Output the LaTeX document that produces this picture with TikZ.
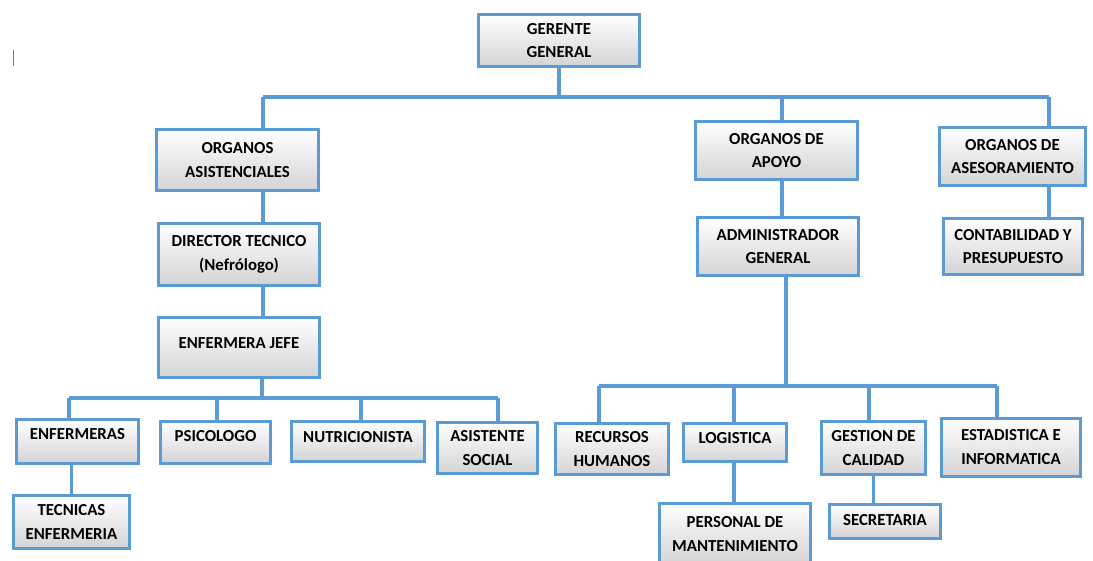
\documentclass[tikz,border=0pt]{standalone}
\usepackage{fontspec}
\setmainfont{Carlito}
\definecolor{azul}{HTML}{5B9BD5}

\begin{document}
\begin{tikzpicture}[x=1pt, y=-1pt]
    \tikzstyle{every node} = [font=\bfseries\fontsize{16.8}{23.5}\selectfont]
    \tikzstyle{caja}       = [rectangle, draw=azul, line width=3pt, top color=white, bottom color=black!17, align=center, inner sep=2pt]
    \tikzstyle{linea}      = [draw=azul, line width=3.5pt]

    \useasboundingbox (0,0) rectangle (1093,560);

    % Cajas.
    \node[caja, minimum width=161pt, minimum height=52pt] (gerente)  at (559,40.5)   {GERENTE\\GENERAL};
    \node[caja, minimum width=162pt, minimum height=61pt] (asist)    at (237.5,160)  {ORGANOS\\ASISTENCIALES};
    \node[caja, minimum width=162pt, minimum height=58pt] (apoyo)    at (776.5,150.5){ORGANOS DE\\APOYO};
    \node[caja, minimum width=146pt, minimum height=58pt] (asesor)   at (1012.5,156.5){ORGANOS DE\\ASESORAMIENTO};
    \node[caja, minimum width=161pt, minimum height=62pt] (director) at (239,254.5)  {DIRECTOR TECNICO\\(Nefrólogo)};
    \node[caja, minimum width=161pt, minimum height=60pt, text depth=8pt] (jefe) at (239,347.5) {ENFERMERA JEFE};
    \node[caja, minimum width=161pt, minimum height=58pt] (admin)    at (778,246.5)  {ADMINISTRADOR\\GENERAL};
    \node[caja, minimum width=139pt, minimum height=56pt] (conta)    at (1013,246.5) {CONTABILIDAD Y\\PRESUPUESTO};

    \node[caja, minimum width=122pt, minimum height=44pt, text depth=16pt] (enfer) at (77.5,441.5) {ENFERMERAS};
    \node[caja, minimum width=110pt, minimum height=42pt, text depth=13pt] (psico) at (215.5,442.5){PSICOLOGO};
    \node[caja, minimum width=133pt, minimum height=40pt, text depth=9pt]  (nutri) at (358,441.5)  {NUTRICIONISTA};
    \node[caja, minimum width=100pt, minimum height=51pt] (social)   at (487.5,448)  {ASISTENTE\\SOCIAL};
    \node[caja, minimum width=116pt, minimum height=53pt] (tecnicas) at (71.5,522)   {TECNICAS\\ENFERMERIA};

    \node[caja, minimum width=113pt, minimum height=51pt] (rrhh)     at (612,449)    {RECURSOS\\HUMANOS};
    \node[caja, minimum width=103pt, minimum height=38pt, text depth=9pt] (logis) at (735,442.5) {LOGISTICA};
    \node[caja, minimum width=104pt, minimum height=53pt] (calidad)  at (873.5,448)  {GESTION DE\\CALIDAD};
    \node[caja, minimum width=139pt, minimum height=58pt] (estad)    at (1011,447)   {ESTADISTICA E\\INFORMATICA};
    \node[caja, minimum width=151pt, minimum height=61pt] (manten)   at (735,534)    {PERSONAL DE\\MANTENIMIENTO};
    \node[caja, minimum width=111pt, minimum height=34pt, text depth=4pt] (secre) at (885,521.5) {SECRETARIA};

    % Lineas de union.
    \coordinate (t1) at (263,97);
    \coordinate (t2) at (782,97);
    \coordinate (t3) at (1049,97);
    \draw[linea] (gerente.south) -- (gerente.south |- t1);
    \draw[linea] (t1) -- (t3);
    \draw[linea] (t1) -- (t1 |- asist.north);
    \draw[linea] (t2) -- (t2 |- apoyo.north);
    \draw[linea] (t3) -- (t3 |- asesor.north);
    \draw[linea] (t1 |- asist.south) -- (t1 |- director.north);
    \draw[linea] (t1 |- director.south) -- (t1 |- jefe.north);
    \draw[linea] (t2 |- apoyo.south) -- (t2 |- admin.north);
    \draw[linea] (t3 |- asesor.south) -- (t3 |- conta.north);

    \coordinate (j0) at (262,398);
    \coordinate (j1) at (69,398);
    \coordinate (j2) at (217,398);
    \coordinate (j3) at (361,398);
    \coordinate (j4) at (498,398);
    \draw[linea] (j0 |- jefe.south) -- (j0);
    \draw[linea] (j1) -- (j4);
    \draw[linea] (j1) -- (j1 |- enfer.north);
    \draw[linea] (j2) -- (j2 |- psico.north);
    \draw[linea] (j3) -- (j3 |- nutri.north);
    \draw[linea] (j4) -- (j4 |- social.north);
    \draw[linea] (tecnicas.north |- enfer.south) -- (tecnicas.north);

    \coordinate (a0) at (786,386);
    \coordinate (a1) at (599,386);
    \coordinate (a2) at (734,386);
    \coordinate (a3) at (869,386);
    \coordinate (a4) at (997,386);
    \draw[linea] (a0 |- admin.south) -- (a0);
    \draw[linea] (a1) -- (a4);
    \draw[linea] (a1) -- (a1 |- rrhh.north);
    \draw[linea] (a2) -- (a2 |- logis.north);
    \draw[linea] (a3) -- (a3 |- calidad.north);
    \draw[linea] (a4) -- (a4 |- estad.north);
    \draw[linea] (a2 |- logis.south) -- (a2 |- manten.north);
    \draw[linea] (calidad.south) -- (calidad.south |- secre.north);

    % Marca suelta.
    \draw[gray, line width=0.8pt] (13,50) -- (13,66);
\end{tikzpicture}
\end{document}
